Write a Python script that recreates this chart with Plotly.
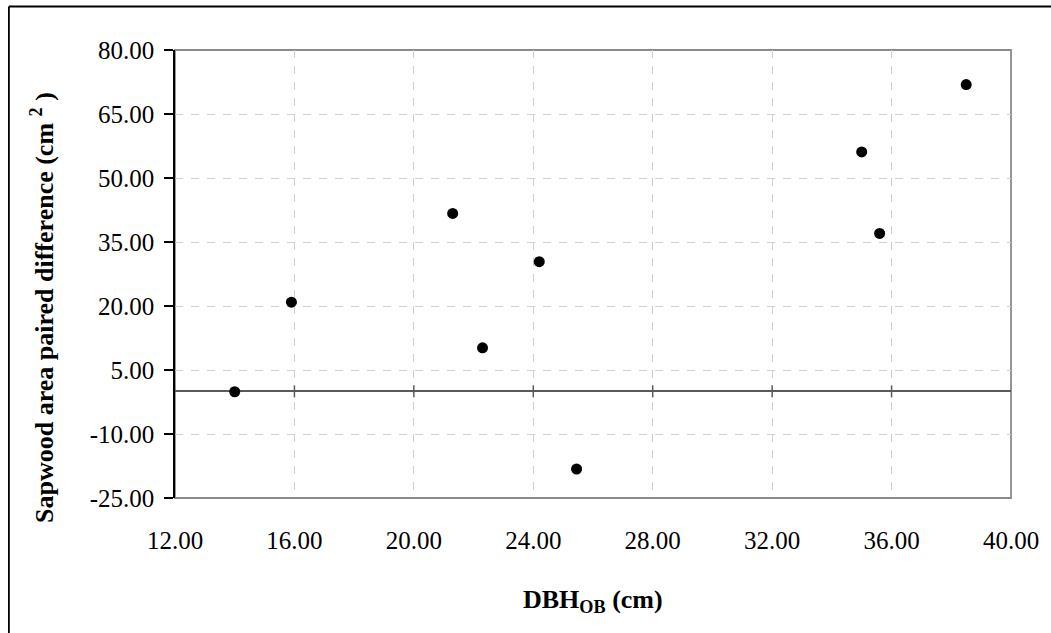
import plotly.graph_objects as go

# Diameter at breast height over bark (cm) and paired sapwood-area difference (cm^2)
dbh_ob = [14.0, 15.9, 21.3, 22.3, 24.2, 25.45, 35.0, 35.6, 38.5]
sapwood_diff = [-0.1, 20.9, 41.7, 10.2, 30.4, -18.2, 56.1, 37.0, 71.9]

x_ticks = [12, 16, 20, 24, 28, 32, 36, 40]
y_ticks = [-25, -10, 5, 20, 35, 50, 65, 80]

FONT = "Liberation Serif"
W, H = 1051, 633
ML, MR, MT, MB = 175, 38, 50, 135
PW, PH = W - ML - MR, H - MT - MB

fig = go.Figure()
fig.add_trace(go.Scatter(
    x=dbh_ob, y=sapwood_diff, mode="markers",
    marker=dict(color="black", size=11, line=dict(width=0)),
    showlegend=False, hoverinfo="x+y",
))

grid = dict(showgrid=True, gridcolor="#cfcfcf", griddash="8px,8px", gridwidth=1.2)

fig.update_xaxes(
    range=[12, 40], tickvals=x_ticks, ticktext=[f"{v:.2f}" for v in x_ticks],
    ticks="", showline=False, zeroline=False,
    tickfont=dict(family=FONT, size=25, color="black"),
    ticklabelstandoff=25, fixedrange=True, **grid,
)
fig.update_yaxes(
    range=[-25, 80], tickvals=y_ticks, ticktext=[f"{v:.2f}" for v in y_ticks],
    ticks="outside", ticklen=9, tickwidth=1.5, tickcolor="black",
    showline=True, linecolor="black", linewidth=1.5, mirror=False,
    zeroline=True, zerolinecolor="#5a5a5a", zerolinewidth=2,
    tickfont=dict(family=FONT, size=25, color="black"),
    ticklabelstandoff=5, fixedrange=True, **grid,
)

shapes = []
# plot-area frame (top, right, bottom)
shapes.append(dict(type="rect", xref="paper", yref="paper", x0=0, x1=1, y0=0, y1=1,
                   line=dict(color="#8a8a8a", width=1.8), layer="below"))
# crossing tick marks on the zero line
for t in x_ticks[1:-1]:
    shapes.append(dict(type="line", xref="x", yref="y", ysizemode="pixel", yanchor=0,
                       x0=t, x1=t, y0=-6, y1=6,
                       line=dict(color="#5a5a5a", width=1.5)))
# outer chart border (left and top edges)
px = lambda v: (v - ML) / PW
py = lambda v: (H - MB - v) / PH
shapes.append(dict(type="line", xref="paper", yref="paper",
                   x0=px(8.5), x1=px(8.5), y0=py(6.5), y1=py(H + 10),
                   line=dict(color="black", width=1.8)))
shapes.append(dict(type="line", xref="paper", yref="paper",
                   x0=px(8.5), x1=px(W + 10), y0=py(6.5), y1=py(6.5),
                   line=dict(color="black", width=1.8)))

annotations = [
    dict(text="<b>DBH<sub>OB</sub> (cm)</b>", xref="paper", yref="paper",
         x=0.5, y=0, xanchor="center", yanchor="middle", yshift=-(601 - (H - MB)),
         showarrow=False, font=dict(family=FONT, size=26, color="black")),
    dict(text="<b>Sapwood area paired difference (cm <sup>2</sup> )</b>",
         xref="paper", yref="paper", x=0, y=py(308), xanchor="center", yanchor="middle",
         xshift=-(ML - 42), textangle=-90,
         showarrow=False, font=dict(family=FONT, size=26, color="black")),
]

fig.update_layout(
    width=W, height=H,
    margin=dict(l=ML, r=MR, t=MT, b=MB, pad=0),
    paper_bgcolor="white", plot_bgcolor="white",
    shapes=shapes, annotations=annotations,
    font=dict(family=FONT, color="black"),
)

fig.write_html("out.html", config={"displayModeBar": False})
